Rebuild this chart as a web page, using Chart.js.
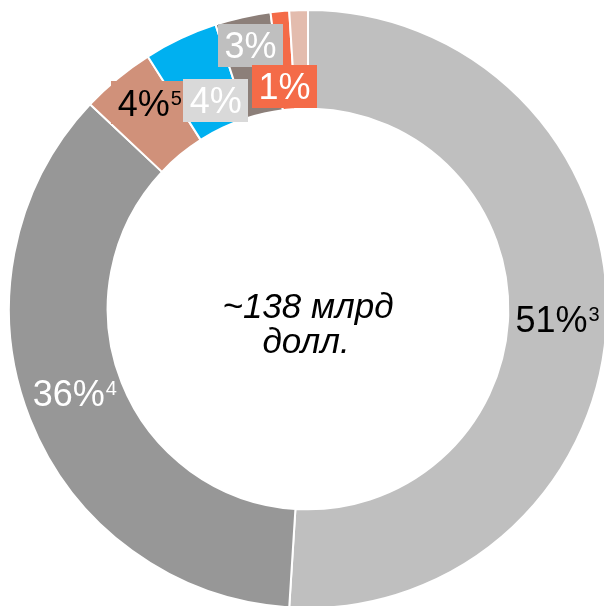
<!DOCTYPE html>
<html>
<head>
<meta charset="utf-8">
<title>~138 млрд долл.</title>
<script src="https://cdn.jsdelivr.net/npm/chart.js@4.4.1/dist/chart.umd.min.js"></script>
<style>
  html, body { margin: 0; padding: 0; background: #ffffff; overflow: hidden; }
  #wrap { position: relative; width: 604px; height: 606px; overflow: hidden; }
  canvas { position: absolute; left: 0; top: 0; }
</style>
</head>
<body>
<div id="wrap"><canvas id="donut" width="620" height="620"></canvas></div>
<script>
// Segments of the ring, clockwise from 12 o'clock
const segments = ['Сегмент 1', 'Сегмент 2', 'Сегмент 3', 'Сегмент 4', 'Сегмент 5', 'Сегмент 6', 'Сегмент 7'];
// Share of the total, %
const shares = [51, 36, 4, 4, 3, 1, 1];
// Footnote marks printed after a share
const footnotes = ['3', '4', '5', '', '', '', ''];
// Which segments carry a printed share
const labelled = [true, true, true, true, true, true, false];
// Centre caption
const centreLines = ['~138 млрд', 'долл.'];

const sliceColors = ['#bfbfbf', '#979797', '#d0917a', '#00b0f0', '#8c7f79', '#f46b48', '#e3bcae'];

// Label look: text colour, box fill (null = none), nudge from the slice centre
const labelStyle = [
  { color: '#000000', box: null,      dx: 0,  dy: 2 },
  { color: '#ffffff', box: null,      dx: -1, dy: -8 },
  { color: '#000000', box: '#d0917a', dx: 1,  dy: -14 },
  { color: '#ffffff', box: '#d9d9d9', dx: 14, dy: 17 },
  { color: '#ffffff', box: '#bfbfbf', dx: -3, dy: -20 },
  { color: '#ffffff', box: '#f46b48', dx: 0,  dy: 26 },
  { color: '#ffffff', box: null,      dx: 0,  dy: 0 }
];

const FONT = '"Liberation Sans", Arial, sans-serif';
const MAIN_SIZE = 36;
const SUP_SIZE = 20;

const sliceLabels = {
  id: 'sliceLabels',
  afterDatasetsDraw(chart) {
    const ctx = chart.ctx;
    const arcs = chart.getDatasetMeta(0).data;
    ctx.save();
    arcs.forEach((arc, i) => {
      if (!labelled[i]) return;
      const st = labelStyle[i];
      const pos = arc.tooltipPosition();
      const cx = pos.x + st.dx;
      const cy = pos.y + st.dy;
      const main = shares[i] + '%';
      const sup = footnotes[i];
      ctx.font = MAIN_SIZE + 'px ' + FONT;
      const wMain = ctx.measureText(main).width;
      ctx.font = SUP_SIZE + 'px ' + FONT;
      const wSup = sup ? ctx.measureText(sup).width + 1 : 0;
      const total = wMain + wSup;
      if (st.box) {
        const bw = total + 13;
        const bh = 43;
        ctx.fillStyle = st.box;
        ctx.fillRect(Math.round(cx - bw / 2), Math.round(cy - bh / 2), Math.round(bw), bh);
      }
      const x0 = cx - total / 2;
      const baseline = cy + MAIN_SIZE * 0.716 / 2;
      ctx.fillStyle = st.color;
      ctx.textBaseline = 'alphabetic';
      ctx.textAlign = 'left';
      ctx.font = MAIN_SIZE + 'px ' + FONT;
      ctx.fillText(main, x0, baseline);
      if (sup) {
        ctx.font = SUP_SIZE + 'px ' + FONT;
        ctx.fillText(sup, x0 + wMain + 1, baseline - 11);
      }
    });
    ctx.restore();
  }
};

const centreText = {
  id: 'centreText',
  afterDraw(chart) {
    const arc = chart.getDatasetMeta(0).data[0];
    const ctx = chart.ctx;
    ctx.save();
    ctx.fillStyle = '#000000';
    ctx.font = 'italic 35px ' + FONT;
    ctx.textAlign = 'center';
    ctx.textBaseline = 'alphabetic';
    ctx.fillText(centreLines[0], arc.x, arc.y + 9);
    ctx.fillText(centreLines[1], arc.x - 2, arc.y + 44);
    ctx.restore();
  }
};

new Chart(document.getElementById('donut'), {
  type: 'doughnut',
  data: {
    labels: segments,
    datasets: [{
      data: shares,
      backgroundColor: sliceColors,
      borderColor: '#ffffff',
      borderWidth: 2,
      hoverOffset: 0
    }]
  },
  options: {
    responsive: false,
    animation: false,
    devicePixelRatio: 1,
    cutout: '67%',
    rotation: 0,
    layout: { padding: { left: 8, right: 12, top: 9, bottom: 11 } },
    plugins: {
      legend: { display: false },
      tooltip: { enabled: false }
    }
  },
  plugins: [sliceLabels, centreText]
});
</script>
</body>
</html>
